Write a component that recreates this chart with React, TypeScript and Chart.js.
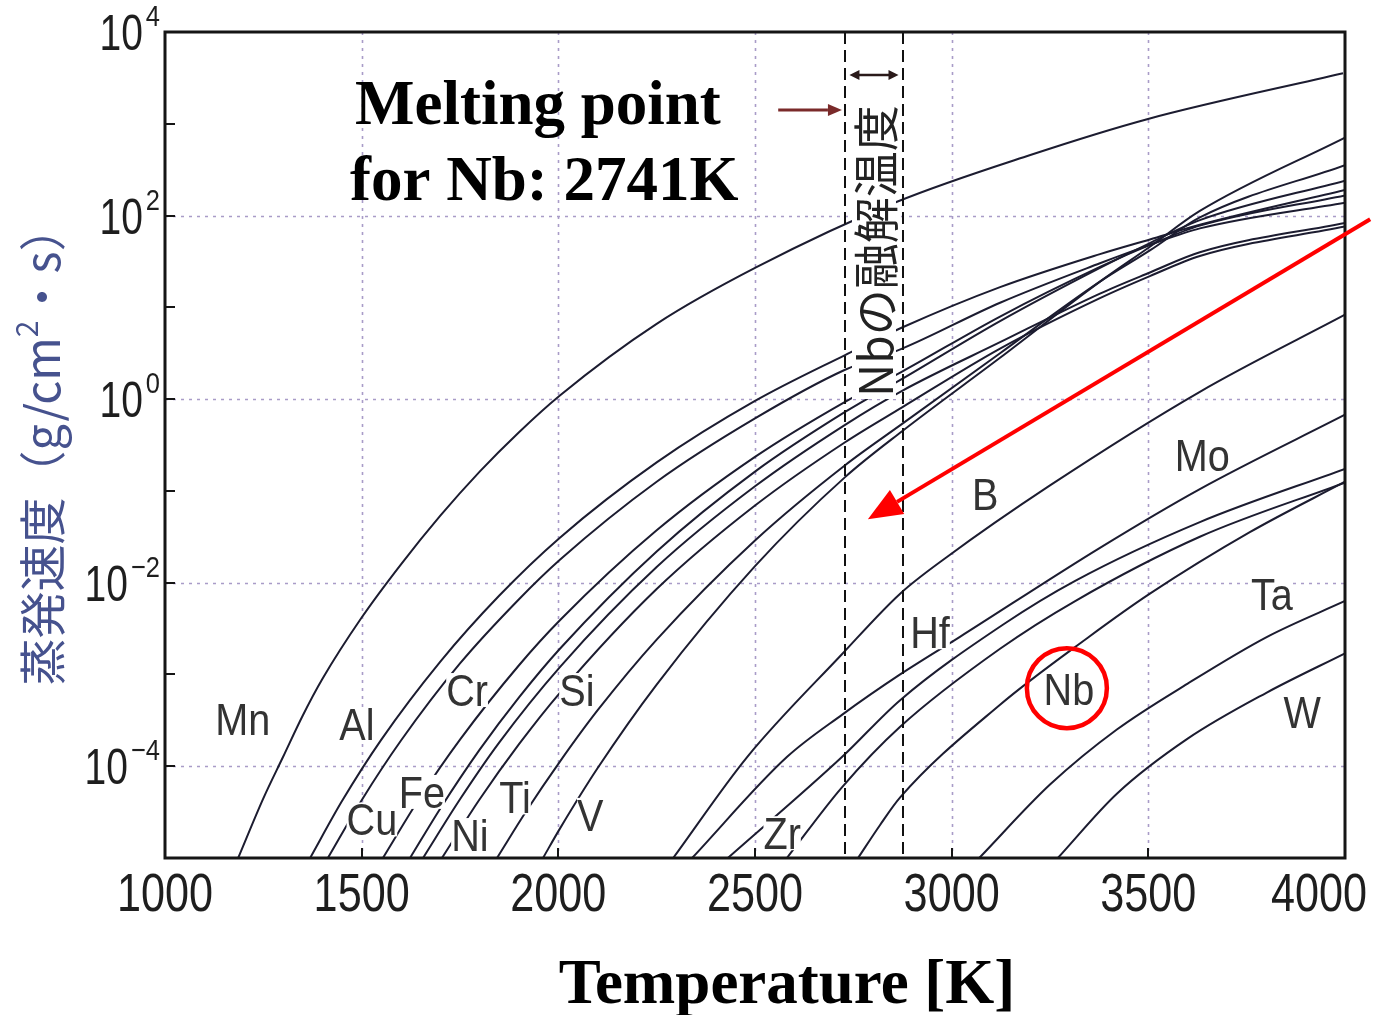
import React, { useEffect, useRef } from "react";
import { Chart, registerables } from "chart.js";
Chart.register(...registerables);

const W = 1373;
const H = 1015;

// Axis ticks / labels
const xTicks = [1000, 1500, 2000, 2500, 3000, 3500, 4000];
const xTickLabels = ["1000", "1500", "2000", "2500", "3000", "3500", "4000"];
const yLabelExps = [4, 2, 0, -2, -4];
const yLabelSup = ["4", "2", "0", "\u22122", "\u22124"];
const yMinorExps = [-4, -3, -2, -1, 0, 1, 2, 3];
const xMinorTicks = [1500, 2000, 2500, 3000, 3500];
const gridX = [1500, 2000, 2500, 3000, 3500];
const gridYExps = [-4, -2, 0, 2];
const meltLines = [2730, 2875];

// Curves: temperature [K] and log10 of evaporation rate [g/cm2 s]
const mnT = [1186, 1250, 1300, 1350, 1400, 1500, 1600, 1700, 1800, 1900, 2004, 2250, 2505, 2861, 3200, 3497, 3995];
const mnLog = [-5, -4.35, -3.9, -3.45, -3.05, -2.38, -1.8, -1.27, -0.79, -0.36, 0.04, 0.82, 1.44, 2.15, 2.66, 3.05, 3.55];

const alT = [1369, 1450, 1550, 1700, 1850, 2004, 2250, 2500, 2729, 2874, 3123, 3377, 3504, 3631, 4000];
const alLog = [-5, -4.38, -3.71, -2.86, -2.14, -1.51, -0.69, -0.02, 0.48, 0.78, 1.22, 1.58, 1.74, 1.9, 2.28];

const cuT = [1414, 1500, 1600, 1750, 1900, 2004, 2250, 2500, 2729, 2874, 3123, 3377, 3504, 3631, 4000];
const cuLog = [-5, -4.37, -3.72, -2.88, -2.18, -1.75, -0.9, -0.21, 0.32, 0.55, 1.05, 1.48, 1.68, 1.86, 2.14];

const crT = [1554, 1650, 1750, 1900, 2004, 2250, 2500, 2729, 2874, 3123, 3377, 3504, 3631, 4000];
const crLog = [-5, -4.33, -3.71, -2.9, -2.41, -1.43, -0.63, -0.03, 0.3, 0.9, 1.44, 1.68, 1.89, 2.22];

const feT = [1623, 1700, 1800, 1900, 2004, 2250, 2500, 2729, 2874, 3123, 3377, 3504, 3631, 4000];
const feLog = [-5, -4.46, -3.82, -3.25, -2.72, -1.66, -0.79, -0.14, 0.22, 0.85, 1.43, 1.7, 1.95, 2.38];

const niT = [1656, 1750, 1850, 2004, 2250, 2500, 2729, 2874, 3123, 3377, 3504, 3631, 4000];
const niLog = [-5, -4.36, -3.74, -2.92, -1.83, -0.95, -0.28, 0.09, 0.62, 1.15, 1.38, 1.6, 1.92];

const tiT = [1704, 1800, 1900, 2004, 2250, 2500, 2729, 2874, 3123, 3377, 3504, 3631, 4000];
const tiLog = [-5, -4.36, -3.76, -3.2, -2.07, -1.16, -0.47, -0.09, 0.55, 1.1, 1.34, 1.56, 1.88];

const siT = [1844, 1920, 2004, 2100, 2250, 2500, 2729, 2874, 3123, 3377, 3504, 3631, 4000];
const siLog = [-5, -4.48, -3.95, -3.39, -2.62, -1.54, -0.72, -0.27, 0.5, 1.28, 1.62, 1.98, 2.55];

const vT = [1961, 2004, 2100, 2250, 2500, 2729, 2874, 3123, 3377, 3504, 3631, 4000];
const vLog = [-5, -4.68, -4.02, -3.11, -1.82, -0.85, -0.35, 0.45, 1.28, 1.66, 2.05, 2.85];

const bT = [2292, 2480, 2721, 2869, 2988, 3250, 3631, 4000];
const bLog = [-5, -3.9, -2.78, -2.12, -1.72, -0.94, 0.08, 0.92];

const zrT = [2340, 2581, 2721, 2869, 3021, 3377, 3631, 4000];
const zrLog = [-5, -3.9, -3.44, -3.0, -2.59, -1.62, -0.98, -0.17];

const hfT = [2431, 2721, 2869, 3133, 3314, 3631, 4000];
const hfLog = [-5, -3.9, -3.28, -2.45, -1.98, -1.34, -0.76];

const moT = [2581, 2721, 2869, 3123, 3314, 3631, 4000];
const moLog = [-5, -4.23, -3.57, -2.72, -2.2, -1.5, -0.91];

const nbT = [2762, 2818, 2869, 3123, 3346, 3504, 3758, 4000];
const nbLog = [-5, -4.64, -4.34, -3.33, -2.6, -2.12, -1.45, -0.9];

const taT = [3070, 3250, 3420, 3600, 3802, 4000];
const taLog = [-5, -4.2, -3.6, -3.1, -2.59, -2.2];

const wT = [3270, 3420, 3600, 3800, 4000];
const wLog = [-5, -4.3, -3.7, -3.2, -2.77];

const curveNames = ["Mn", "Al", "Cu", "Cr", "Fe", "Ni", "Ti", "Si", "V", "B", "Zr", "Hf", "Mo", "Nb", "Ta", "W"];
const curveTemps = [mnT, alT, cuT, crT, feT, niT, tiT, siT, vT, bT, zrT, hfT, moT, nbT, taT, wT];
const curveLogs = [mnLog, alLog, cuLog, crLog, feLog, niLog, tiLog, siLog, vLog, bLog, zrLog, hfLog, moLog, nbLog, taLog, wLog];

// Element labels: text, temperature, log10 rate (label centre)
const labelTexts = ["Mn", "Al", "Cu", "Fe", "Cr", "Ni", "Ti", "Si", "V", "Zr", "Hf", "B", "Mo", "Nb", "Ta", "W"];
const labelT = [1198, 1488, 1526, 1653, 1768, 1775, 1890, 2047, 2081, 2569, 2945, 3085, 3637, 3298, 3814, 3891];
const labelLog = [-3.49, -3.54, -4.58, -4.28, -3.17, -4.75, -4.34, -3.17, -4.53, -4.73, -2.54, -1.03, -0.61, -3.16, -2.12, -3.41];

const titleLines = ["Melting point", "for Nb: 2741K"];
const xTitle = "Temperature [K]";
const yTitleParts = ["\u84b8\u767a\u901f\u5ea6\uff08g/cm", "2", "\u30fbs\uff09"];
const meltText = "Nb\u306e\u878d\u89e3\u6e29\u5ea6";

function drawText(
  ctx: CanvasRenderingContext2D,
  s: string,
  x: number,
  y: number,
  font: string,
  color: string,
  align: CanvasTextAlign = "left",
  base: CanvasTextBaseline = "alphabetic",
  sx = 1
) {
  ctx.save();
  ctx.font = font;
  ctx.fillStyle = color;
  ctx.textAlign = align;
  ctx.textBaseline = base;
  ctx.translate(x, y);
  ctx.scale(sx, 1);
  ctx.fillText(s, 0, 0);
  ctx.restore();
}

function textWidth(ctx: CanvasRenderingContext2D, s: string, font: string, sx = 1) {
  ctx.save();
  ctx.font = font;
  const w = ctx.measureText(s).width * sx;
  ctx.restore();
  return w;
}

function arrow(ctx: CanvasRenderingContext2D, x1: number, y1: number, x2: number, y2: number, color: string, lw: number, headLen: number, headW: number) {
  const ang = Math.atan2(y2 - y1, x2 - x1);
  const bx = x2 - headLen * Math.cos(ang);
  const by = y2 - headLen * Math.sin(ang);
  ctx.save();
  ctx.strokeStyle = color;
  ctx.fillStyle = color;
  ctx.lineWidth = lw;
  ctx.beginPath();
  ctx.moveTo(x1, y1);
  ctx.lineTo(bx, by);
  ctx.stroke();
  ctx.beginPath();
  ctx.moveTo(x2, y2);
  ctx.lineTo(bx + headW * Math.sin(ang), by - headW * Math.cos(ang));
  ctx.lineTo(bx - headW * Math.sin(ang), by + headW * Math.cos(ang));
  ctx.closePath();
  ctx.fill();
  ctx.restore();
}

const decoPlugin = {
  id: "deco",
  beforeDatasetsDraw(chart: any) {
    const { ctx, chartArea: a, scales } = chart;
    const x = scales.x;
    const y = scales.y;
    ctx.save();
    ctx.strokeStyle = "#a99cc8";
    ctx.lineWidth = 1.6;
    ctx.setLineDash([3, 5]);
    gridX.forEach((v) => {
      const px = Math.round(x.getPixelForValue(v)) + 0.5;
      ctx.beginPath();
      ctx.moveTo(px, a.top);
      ctx.lineTo(px, a.bottom);
      ctx.stroke();
    });
    gridYExps.forEach((e) => {
      const py = Math.round(y.getPixelForValue(Math.pow(10, e))) + 0.5;
      ctx.beginPath();
      ctx.moveTo(a.left, py);
      ctx.lineTo(a.right, py);
      ctx.stroke();
    });
    ctx.restore();
  },
  afterDatasetsDraw(chart: any) {
    const { ctx, chartArea: a, scales } = chart;
    const x = scales.x;
    const y = scales.y;
    const ink = "#1e1e1e";

    // melting point dashed lines
    ctx.save();
    ctx.strokeStyle = "#111";
    ctx.lineWidth = 2;
    ctx.setLineDash([12, 6]);
    meltLines.forEach((v) => {
      const px = Math.round(x.getPixelForValue(v));
      ctx.beginPath();
      ctx.moveTo(px, a.top);
      ctx.lineTo(px, a.bottom);
      ctx.stroke();
    });
    ctx.restore();

    // vertical text between the dashed lines
    const mx = (x.getPixelForValue(meltLines[0]) + x.getPixelForValue(meltLines[1])) / 2;
    ctx.save();
    ctx.translate(mx, 397);
    ctx.rotate(-Math.PI / 2);
    ctx.font = "46px 'Noto Sans CJK JP'";
    const mw = ctx.measureText(meltText).width;
    ctx.fillStyle = "#fff";
    ctx.fillRect(-2, -22, mw + 4, 44);
    ctx.fillStyle = "#222";
    ctx.textAlign = "left";
    ctx.textBaseline = "middle";
    ctx.fillText(meltText, 0, 2);
    ctx.restore();

    // double arrow at top between dashed lines
    const dx1 = x.getPixelForValue(meltLines[0]) + 4;
    const dx2 = x.getPixelForValue(meltLines[1]) - 4;
    const dy = 75;
    ctx.save();
    ctx.strokeStyle = "#2a1a1a";
    ctx.fillStyle = "#2a1a1a";
    ctx.lineWidth = 2.5;
    ctx.beginPath();
    ctx.moveTo(dx1 + 8, dy);
    ctx.lineTo(dx2 - 8, dy);
    ctx.stroke();
    ctx.beginPath();
    ctx.moveTo(dx1, dy);
    ctx.lineTo(dx1 + 10, dy - 5);
    ctx.lineTo(dx1 + 10, dy + 5);
    ctx.closePath();
    ctx.fill();
    ctx.beginPath();
    ctx.moveTo(dx2, dy);
    ctx.lineTo(dx2 - 10, dy - 5);
    ctx.lineTo(dx2 - 10, dy + 5);
    ctx.closePath();
    ctx.fill();
    ctx.restore();

    // small arrow pointing at the melting line
    arrow(ctx, x.getPixelForValue(2559), y.getPixelForValue(Math.pow(10, 3.15)), x.getPixelForValue(2721), y.getPixelForValue(Math.pow(10, 3.15)), "#7a2a2a", 3, 14, 6);

    // element labels
    const lf = "44px 'Liberation Sans', Arial, sans-serif";
    labelTexts.forEach((s, i) => {
      const px = x.getPixelForValue(labelT[i]);
      const py = y.getPixelForValue(Math.pow(10, labelLog[i]));
      const w = textWidth(ctx, s, lf, 0.9);
      ctx.save();
      ctx.fillStyle = "#fff";
      ctx.fillRect(px - w / 2, py - 17, w, 34);
      ctx.restore();
      drawText(ctx, s, px, py + 16, lf, "#333", "center", "alphabetic", 0.9);
    });

    // frame
    ctx.save();
    ctx.strokeStyle = "#151515";
    ctx.lineWidth = 3;
    ctx.strokeRect(a.left, a.top, a.right - a.left, a.bottom - a.top);
    ctx.lineWidth = 2;
    yMinorExps.forEach((e) => {
      const py = Math.round(y.getPixelForValue(Math.pow(10, e)));
      ctx.beginPath();
      ctx.moveTo(a.left, py);
      ctx.lineTo(a.left + 10, py);
      ctx.stroke();
    });
    xMinorTicks.forEach((v) => {
      const px = Math.round(x.getPixelForValue(v));
      ctx.beginPath();
      ctx.moveTo(px, a.bottom);
      ctx.lineTo(px, a.bottom - 10);
      ctx.stroke();
    });
    ctx.restore();

    // x tick labels
    const xf = "54px 'Liberation Sans', Arial, sans-serif";
    xTicks.forEach((v, i) => {
      const px = x.getPixelForValue(v);
      const w = textWidth(ctx, xTickLabels[i], xf, 0.8);
      if (px + w / 2 > W - 6) {
        drawText(ctx, xTickLabels[i], W - 6, 911, xf, ink, "right", "alphabetic", 0.8);
      } else {
        drawText(ctx, xTickLabels[i], px, 911, xf, ink, "center", "alphabetic", 0.8);
      }
    });

    // y tick labels 10^n
    const yf = "50px 'Liberation Sans', Arial, sans-serif";
    const sf = "30px 'Liberation Sans', Arial, sans-serif";
    yLabelExps.forEach((e, i) => {
      const py = y.getPixelForValue(Math.pow(10, e));
      const sw = textWidth(ctx, yLabelSup[i], sf, 0.85);
      const right = 160;
      drawText(ctx, yLabelSup[i], right, py - 6, sf, ink, "right", "alphabetic", 0.85);
      drawText(ctx, "10", right - sw - 3, py + 18, yf, ink, "right", "alphabetic", 0.78);
    });

    // y axis title (rotated)
    ctx.save();
    ctx.translate(44, 445);
    ctx.rotate(-Math.PI / 2);
    const tf = "47px 'Noto Sans CJK JP'";
    const tsf = "30px 'Noto Sans CJK JP'";
    const w0 = textWidth(ctx, yTitleParts[0], tf);
    const w1 = textWidth(ctx, yTitleParts[1], tsf);
    const w2 = textWidth(ctx, yTitleParts[2], tf);
    let cx = -(w0 + w1 + w2) / 2;
    const tc = "#46528e";
    drawText(ctx, yTitleParts[0], cx, 16, tf, tc);
    cx += w0;
    drawText(ctx, yTitleParts[1], cx, -6, tsf, tc);
    cx += w1;
    drawText(ctx, yTitleParts[2], cx, 16, tf, tc);
    ctx.restore();

    // overlay title text
    const bf = "bold 63px 'Liberation Serif', 'Times New Roman', serif";
    drawText(ctx, titleLines[0], 355, 124, bf, "#000");
    drawText(ctx, titleLines[1], 350, 200, bf, "#000");
    drawText(ctx, xTitle, 787, 1003, bf, "#000", "center");

    // red annotation arrow and circle
    arrow(
      ctx,
      x.getPixelForValue(4064),
      y.getPixelForValue(Math.pow(10, 1.96)),
      x.getPixelForValue(2787),
      y.getPixelForValue(Math.pow(10, -1.31)),
      "#ff0000",
      4,
      34,
      14
    );
    const nbi = labelTexts.indexOf("Nb");
    ctx.save();
    ctx.strokeStyle = "#ff0000";
    ctx.lineWidth = 4.5;
    ctx.beginPath();
    ctx.arc(x.getPixelForValue(labelT[nbi]) - 2, y.getPixelForValue(Math.pow(10, labelLog[nbi])) - 1, 40, 0, Math.PI * 2);
    ctx.stroke();
    ctx.restore();
  },
};

export default function App() {
  const ref = useRef<HTMLCanvasElement | null>(null);
  useEffect(() => {
    document.body.style.margin = "0";
    const canvas = ref.current;
    if (!canvas) return;
    const datasets = curveNames.map((name, i) => ({
      label: name,
      data: curveTemps[i].map((t, j) => ({ x: t, y: Math.pow(10, curveLogs[i][j]) })),
      borderColor: "#1c1c30",
      borderWidth: 2,
      pointRadius: 0,
      fill: false,
      cubicInterpolationMode: "monotone" as const,
    }));
    const chart = new Chart(canvas, {
      type: "line",
      data: { datasets },
      options: {
        responsive: false,
        animation: false,
        layout: { padding: { left: 165, top: 32, right: 28, bottom: 157 } },
        scales: {
          x: { type: "linear", min: 1000, max: 4000, display: false },
          y: { type: "logarithmic", min: 1e-5, max: 1e4, display: false },
        },
        plugins: { legend: { display: false }, tooltip: { enabled: false } },
      },
      plugins: [decoPlugin],
    });
    return () => chart.destroy();
  }, []);
  return (
    <div style={{ width: W, height: H, background: "#fff" }}>
      <canvas ref={ref} width={W} height={H} style={{ display: "block" }} />
    </div>
  );
}
